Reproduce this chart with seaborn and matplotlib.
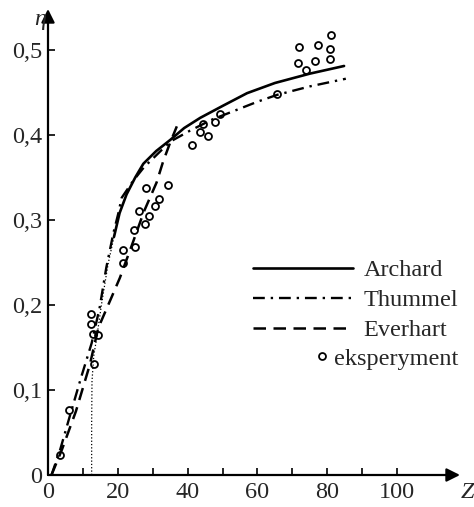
import numpy as np
import matplotlib
matplotlib.use("Agg")
import matplotlib.pyplot as plt
import seaborn as sns
from matplotlib.lines import Line2D

# Archard: dotted lower part + solid upper part
archard_low_x = [12.5, 12.5, 12.6, 13.1, 13.9, 15.3, 17.2, 18.9]
archard_low_y = [0.0, 0.06, 0.11, 0.14, 0.16, 0.20, 0.248, 0.28]
archard_x = [18.9, 20.5, 22.5, 25.0, 27.3, 31.0, 35.0, 39.0, 43.6, 50.0, 57.0, 65.0, 75.0, 84.8]
archard_y = [0.28, 0.308, 0.330, 0.350, 0.366, 0.381, 0.394, 0.408, 0.420, 0.434, 0.449, 0.461, 0.472, 0.481]

thummel_x = [1.0, 3.5, 6.3, 9.5, 12.5, 14.8, 16.7, 18.7, 20.1, 21.1, 24.4, 27.5, 31.0, 35.0,
             40.7, 47.0, 53.2, 60.0, 65.6, 75.0, 85.3]
thummel_y = [0.0, 0.03, 0.07, 0.115, 0.155, 0.197, 0.244, 0.284, 0.307, 0.326, 0.346, 0.362, 0.376, 0.392,
             0.405, 0.418, 0.428, 0.439, 0.447, 0.457, 0.466]

everhart_x = [1.0, 4.0, 8.0, 12.0, 14.4, 18.2, 20.6, 24.0, 27.5, 31.1, 33.0, 35.0, 36.9]
everhart_y = [0.0, 0.03, 0.075, 0.13, 0.173, 0.209, 0.232, 0.27, 0.31, 0.344, 0.369, 0.391, 0.41]

exp_x = [3.4, 6.0, 12.4, 12.4, 12.9, 14.3, 13.3, 21.5, 21.5, 24.7, 25.0, 26.0, 27.7, 28.9, 28.0, 30.6,
         31.7, 34.4, 41.1, 43.6, 44.5, 45.8, 47.7, 49.3, 65.6, 71.5, 71.9, 73.8, 76.5, 77.2, 80.7, 80.7, 81.1]
exp_y = [0.024, 0.076, 0.189, 0.178, 0.166, 0.165, 0.131, 0.265, 0.249, 0.288, 0.268, 0.311, 0.295, 0.305,
         0.337, 0.316, 0.325, 0.341, 0.388, 0.403, 0.413, 0.399, 0.415, 0.424, 0.448, 0.485, 0.503, 0.476,
         0.487, 0.506, 0.489, 0.501, 0.517]

x_major = [0, 20, 40, 60, 80, 100]
x_minor = [10, 30, 50, 70, 90]
y_ticks = [0, 0.1, 0.2, 0.3, 0.4, 0.5]
y_labels = ["0", "0,1", "0,2", "0,3", "0,4", "0,5"]

sns.set_style("white")
plt.rcParams["font.family"] = ["Liberation Serif", "DejaVu Serif"]
fs = 17.5

fig = plt.figure(figsize=(4.74, 5.07), dpi=100)
ax = fig.add_axes([48 / 474, 32 / 507, 412 / 474, 466 / 507])

sns.lineplot(x=archard_low_x, y=archard_low_y, ax=ax, color="k", lw=0.9, linestyle=":",
             estimator=None, sort=False)
sns.lineplot(x=archard_x, y=archard_y, ax=ax, color="k", lw=1.9, estimator=None, sort=False,
             label="Archard")
sns.lineplot(x=thummel_x, y=thummel_y, ax=ax, color="k", lw=1.7, linestyle=(0, (5, 2.5, 1, 2.5)),
             estimator=None, sort=False, label="Thummel")
sns.lineplot(x=everhart_x, y=everhart_y, ax=ax, color="k", lw=1.8, linestyle=(0, (5, 3)),
             estimator=None, sort=False, label="Everhart")
ax.plot(exp_x, exp_y, "o", ms=5, mfc="none", mec="k", mew=1.3)

ax.set_xlim(0, 118)
ax.set_ylim(0, 0.548)
for s in ax.spines.values():
    s.set_visible(False)

arrow = dict(arrowstyle="-|>", color="k", lw=1.6, mutation_scale=20, shrinkA=0, shrinkB=0)
ax.annotate("", xy=(1, 0), xytext=(0, 0), xycoords="axes fraction", arrowprops=arrow)
ax.annotate("", xy=(0, 1), xytext=(0, 0), xycoords="axes fraction", arrowprops=arrow)

ax.set_xticks(x_major)
ax.set_xticks(x_minor, minor=True)
ax.set_xticklabels([str(v) for v in x_major])
ax.set_yticks(y_ticks)
ax.set_yticklabels(y_labels)
ax.tick_params(axis="both", which="both", direction="in", length=5, width=1.2, color="k",
               labelsize=fs, bottom=True, left=True)
ax.tick_params(axis="x", pad=5)
ax.tick_params(axis="y", pad=4)

fig.text(40 / 474, 1 - 19 / 507, "η", fontsize=fs, style="italic", ha="center", va="center")
fig.text(467 / 474, 1 - 492 / 507, "Z", fontsize=fs, style="italic", ha="center", va="center")

# legend: three curves, then the experiment entry set a little to the left
handles, labels = ax.get_legend_handles_labels()
leg = ax.legend(handles, labels, loc="upper left", bbox_to_anchor=(253 / 474, 1 - 259 / 507),
                bbox_transform=fig.transFigure, frameon=False, fontsize=fs, handlelength=4.1,
                handletextpad=0.45, labelspacing=0.33, borderpad=0, borderaxespad=0)
ax.add_artist(leg)
exp_handle = Line2D([], [], marker="o", ls="", ms=5, mfc="none", mec="k", mew=1.3)
ax.legend([exp_handle], ["eksperyment"], loc="center left",
          bbox_to_anchor=(315 / 474, 1 - 359 / 507), bbox_transform=fig.transFigure,
          frameon=False, fontsize=fs, handlelength=0.58, handletextpad=0.2, borderpad=0,
          borderaxespad=0, numpoints=1)

fig.savefig("out.png", dpi=100)
